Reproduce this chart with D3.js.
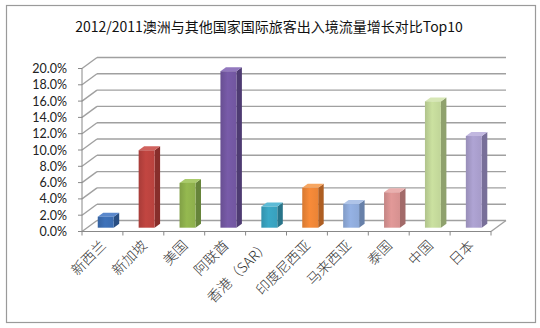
<!DOCTYPE html>
<html><head><meta charset="utf-8">
<script src="https://cdn.jsdelivr.net/npm/d3@7"></script>
<style>html,body{margin:0;padding:0;background:#fff;}svg{display:block;}</style>
</head><body>
<svg id="c" width="540" height="328"></svg>
<script>
const title = "2012/2011澳洲与其他国家国际旅客出入境流量增长对比Top10";
const categories = ["新西兰","新加坡","美国","阿联酋","香港（SAR）","印度尼西亚","马来西亚","泰国","中国","日本"];
const values = [1.35, 9.5, 5.5, 19.2, 2.6, 4.9, 2.9, 4.35, 15.5, 11.25];
const yTicks = [0,2,4,6,8,10,12,14,16,18,20];
const frontColors = ["#3B6CB0","#B8423E","#8DAF4C","#7256A0","#38A0BD","#EB8436","#8DA9D8","#D69190","#C0D598","#A69BC9"];
const sideColors  = ["#294E82","#872E2B","#66843A","#4E3B72","#287489","#AE5E22","#6780A9","#A26A69","#8FA16D","#786F99"];
const topColors   = ["#5A88CC","#D0625E","#AACB6C","#9278BE","#5DBBD6","#F7A661","#AFC4E8","#EAB0AF","#D7E7B6","#C2B8E0"];

const svg = d3.select("#c");
svg.append("rect").attr("x",6.5).attr("y",5.5).attr("width",529).attr("height",317)
  .attr("fill","#fff").attr("stroke","#9a9a9a").attr("stroke-width",1.2);

svg.append("text").attr("x",269).attr("y",32).attr("text-anchor","middle")
  .attr("font-family","'Noto Sans CJK SC', sans-serif").attr("font-size",14).attr("fill","#111")
  .text(title);

const D = {dx:15, dy:-11};
const x = d3.scaleBand().domain(categories).range([82,491]).paddingInner(0).paddingOuter(0);
const y = d3.scaleLinear().domain([0,20]).range([231.5,68.5]);
const bw = x.bandwidth();
const grid = "#a0a0a0";

const g = svg.append("g");
yTicks.forEach(v=>{
  const yf = y(v);
  g.append("line").attr("x1",82).attr("y1",yf).attr("x2",82+D.dx).attr("y2",yf+D.dy)
    .attr("stroke",grid).attr("stroke-width",1.4);
  g.append("line").attr("x1",82+D.dx).attr("y1",yf+D.dy).attr("x2",491+D.dx).attr("y2",yf+D.dy)
    .attr("stroke",grid).attr("stroke-width",1.4);
  g.append("line").attr("x1",78).attr("y1",yf).attr("x2",82).attr("y2",yf)
    .attr("stroke","#888").attr("stroke-width",1);
});
g.append("line").attr("x1",491).attr("y1",y(0)).attr("x2",491+D.dx).attr("y2",y(0)+D.dy)
  .attr("stroke",grid).attr("stroke-width",1.4);
g.append("line").attr("x1",82).attr("y1",y(0)).attr("x2",82).attr("y2",y(20))
  .attr("stroke","#888").attr("stroke-width",1);
g.append("line").attr("x1",82).attr("y1",y(0)).attr("x2",491).attr("y2",y(0))
  .attr("stroke","#888").attr("stroke-width",1.2);
categories.concat([null]).forEach((c,i)=>{
  const xx = c===null ? 491 : x(c);
  g.append("line").attr("x1",xx).attr("y1",y(0)).attr("x2",xx).attr("y2",y(0)+4)
    .attr("stroke","#888").attr("stroke-width",1);
});

yTicks.forEach(v=>{
  svg.append("text").attr("x",67).attr("y",y(v)).attr("dy","0.36em").attr("text-anchor","end")
    .attr("font-family","Lato, 'Open Sans', sans-serif").attr("font-size",12.5).attr("fill","#222")
    .text(v.toFixed(1)+"%");
});

const defs = svg.append("defs");
categories.forEach((c,i)=>{
  const lg = defs.append("linearGradient").attr("id","gr"+i).attr("x1","0").attr("x2","1").attr("y1","0").attr("y2","0");
  lg.append("stop").attr("offset","0%").attr("stop-color",d3.color(frontColors[i]).darker(0.25));
  lg.append("stop").attr("offset","45%").attr("stop-color",d3.color(frontColors[i]).brighter(0.15));
  lg.append("stop").attr("offset","100%").attr("stop-color",frontColors[i]);
});

const bo = {dx:0, dy:-3.8};
const bd = {dx:5.5, dy:-4};
const bars = svg.append("g");
categories.forEach((c,i)=>{
  const x0 = x(c) + bw*0.385 + bo.dx, x1 = x0 + bw*0.39;
  const yb = y(0) + bo.dy, yt = y(values[i]) + bo.dy;
  bars.append("polygon").attr("points",[[x1,yb],[x1,yt],[x1+bd.dx,yt+bd.dy],[x1+bd.dx,yb+bd.dy]].join(" "))
    .attr("fill",sideColors[i]);
  bars.append("polygon").attr("points",[[x0,yt],[x1,yt],[x1+bd.dx,yt+bd.dy],[x0+bd.dx,yt+bd.dy]].join(" "))
    .attr("fill",topColors[i]);
  bars.append("rect").attr("x",x0).attr("y",yt).attr("width",x1-x0).attr("height",yb-yt)
    .attr("fill","url(#gr"+i+")");
});

categories.forEach((c,i)=>{
  const cx = x(c) + bw/2 + 1, cy = 243;
  svg.append("text").attr("transform",`translate(${cx},${cy}) rotate(-45)`)
    .attr("text-anchor","end").attr("dy","0.35em")
    .attr("font-family","'Noto Sans CJK SC', sans-serif").attr("font-size",14).attr("font-weight",300).attr("fill","#333")
    .text(c);
});
</script>
</body></html>
